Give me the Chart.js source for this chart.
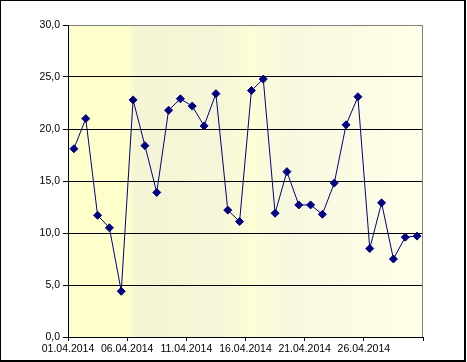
<!DOCTYPE html>
<html>
<head>
<meta charset="utf-8">
<title>Апрель 2014</title>
<script src="https://cdn.jsdelivr.net/npm/chart.js@4/dist/chart.umd.min.js"></script>
<style>
    html, body { margin: 0; padding: 0; background: #ffffff; }
    #wrap { width: 467px; height: 362px; position: relative; }
</style>
</head>
<body>
<div id="wrap"><canvas id="dailyChart" width="467" height="362"></canvas></div>
<script>
// даты (по одной на день)
const days = [
    '01.04.2014', '02.04.2014', '03.04.2014', '04.04.2014', '05.04.2014',
    '06.04.2014', '07.04.2014', '08.04.2014', '09.04.2014', '10.04.2014',
    '11.04.2014', '12.04.2014', '13.04.2014', '14.04.2014', '15.04.2014',
    '16.04.2014', '17.04.2014', '18.04.2014', '19.04.2014', '20.04.2014',
    '21.04.2014', '22.04.2014', '23.04.2014', '24.04.2014', '25.04.2014',
    '26.04.2014', '27.04.2014', '28.04.2014', '29.04.2014', '30.04.2014'
];

// значения ряда
const values = [
    18.1, 21.0, 11.7, 10.5, 4.4, 22.8, 18.4, 13.9, 21.8, 22.9,
    22.2, 20.3, 23.4, 12.2, 11.1, 23.7, 24.8, 11.9, 15.9, 12.7,
    12.7, 11.8, 14.8, 20.4, 23.1, 8.5, 12.9, 7.5, 9.6, 9.7
];

// шкала Y
const yMin = 0;
const yMax = 30;
const yStep = 5;

// подпись оси X каждые 5 дней
const xLabelStep = 5;

const navy = '#000080';

document.addEventListener('DOMContentLoaded', function() {
    renderChart();
});

/**
 * фон области построения и рамка диаграммы
 */
const excelFrame = {
    id: 'excelFrame',
    beforeDraw(chart) {
        const ctx = chart.ctx;
        const a = chart.chartArea;
        ctx.save();
        const g = ctx.createLinearGradient(a.left, 0, a.right, 0);
        g.addColorStop(0.00, '#ffffcc');
        g.addColorStop(0.17, '#ffffcc');
        g.addColorStop(0.19, '#f5f5d5');
        g.addColorStop(0.42, '#f6f6d8');
        g.addColorStop(0.52, '#fdfdd6');
        g.addColorStop(0.62, '#f8f8e0');
        g.addColorStop(1.00, '#ffffea');
        ctx.fillStyle = g;
        ctx.fillRect(a.left, a.top, a.right - a.left, a.bottom - a.top);
        ctx.restore();
    },
    afterDraw(chart) {
        const ctx = chart.ctx;
        const a = chart.chartArea;
        ctx.save();
        // правая граница области построения
        ctx.strokeStyle = '#808080';
        ctx.lineWidth = 1;
        ctx.beginPath();
        ctx.moveTo(Math.round(a.right) - 0.5, a.top);
        ctx.lineTo(Math.round(a.right) - 0.5, a.bottom);
        ctx.stroke();
        // внешняя рамка
        ctx.fillStyle = '#000000';
        ctx.fillRect(0, 0, 466, 1);
        ctx.fillRect(0, 0, 1, 362);
        ctx.fillRect(464, 0, 2, 362);
        ctx.fillRect(0, 360, 466, 2);
        ctx.restore();
    }
};

function renderChart() {
    const points = values.map((v, i) => ({ x: i + 0.5, y: v }));

    new Chart(document.getElementById('dailyChart'), {
        type: 'line',
        data: {
            datasets: [{
                data: points,
                borderColor: navy,
                borderWidth: 1,
                backgroundColor: navy,
                pointStyle: 'rectRot',
                pointRadius: 4,
                pointBorderWidth: 1,
                pointBorderColor: navy,
                pointBackgroundColor: navy,
                tension: 0
            }]
        },
        options: {
            responsive: false,
            animation: false,
            devicePixelRatio: 1,
            layout: { padding: { top: 25, right: 44, left: 0, bottom: 0 } },
            plugins: {
                legend: { display: false },
                tooltip: { enabled: false }
            },
            scales: {
                x: {
                    type: 'linear',
                    min: 0,
                    max: days.length,
                    afterFit: s => { s.height = 25; },
                    afterBuildTicks: s => {
                        s.ticks = [];
                        for (let v = 0; v <= days.length; v += xLabelStep) s.ticks.push({ value: v });
                    },
                    ticks: {
                        autoSkip: false,
                        maxRotation: 0,
                        padding: 2,
                        color: '#000000',
                        font: { family: 'Liberation Sans, Arial, sans-serif', size: 10.5 },
                        callback: v => days[v] || ''
                    },
                    grid: {
                        drawOnChartArea: false,
                        drawTicks: true,
                        tickLength: 4,
                        color: '#000000',
                        tickColor: '#000000'
                    },
                    border: { color: '#000000', width: 1 }
                },
                y: {
                    min: yMin,
                    max: yMax,
                    afterFit: s => { s.width = 68; },
                    ticks: {
                        stepSize: yStep,
                        padding: 3,
                        color: '#000000',
                        font: { family: 'Liberation Sans, Arial, sans-serif', size: 10.5 },
                        callback: v => v.toFixed(1).replace('.', ',')
                    },
                    grid: {
                        tickLength: 5,
                        color: c => (c.tick && c.tick.value === yMax) ? '#808080' : '#000000',
                        tickColor: '#000000'
                    },
                    border: { color: '#000000', width: 1 }
                }
            }
        },
        plugins: [excelFrame]
    });
}
</script>
</body>
</html>
